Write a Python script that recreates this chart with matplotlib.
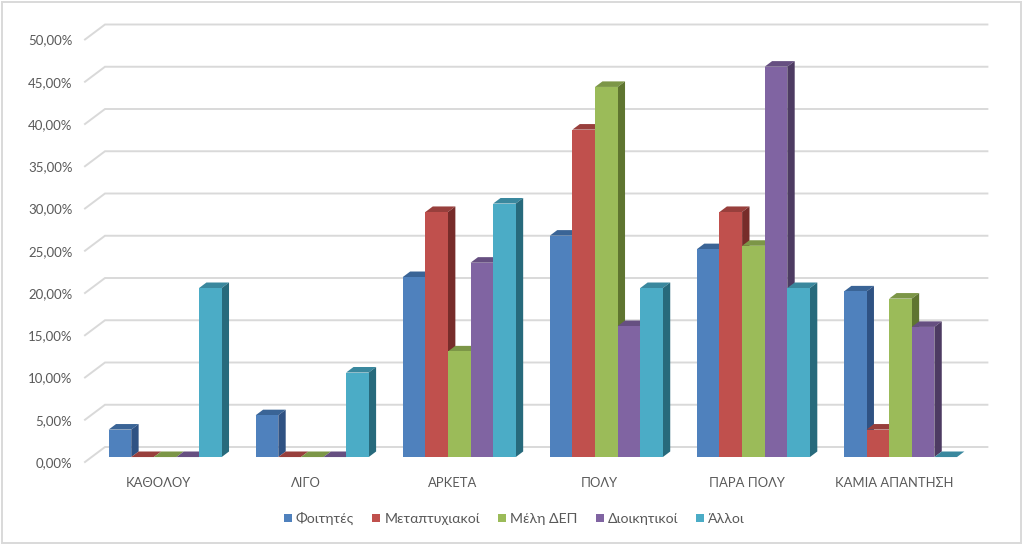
import numpy as np
import matplotlib
matplotlib.use('Agg')
import matplotlib.pyplot as plt
from matplotlib.patches import Rectangle, Patch

categories = ['ΚΑΘΟΛΟΥ', 'ΛΙΓΟ', 'ΑΡΚΕΤΑ', 'ΠΟΛΥ', 'ΠΑΡΑ ΠΟΛΥ', 'ΚΑΜΙΑ ΑΠΑΝΤΗΣΗ']
series_names = ['Φοιτητές', 'Μεταπτυχιακοί', 'Μέλη ΔΕΠ', 'Διοικητικοί', 'Άλλοι']

foitites = [3.25, 4.95, 21.3, 26.2, 24.6, 19.6]
metaptyxiakoi = [0, 0, 29.0, 38.75, 29.0, 3.25]
meli_dep = [0, 0, 12.5, 43.8, 25.0, 18.75]
dioikitikoi = [0, 0, 23.0, 15.5, 46.2, 15.4]
alloi = [20.0, 10.0, 30.0, 20.0, 20.0, 0]
values = [foitites, metaptyxiakoi, meli_dep, dioikitikoi, alloi]

yticks = np.arange(0, 51, 5)
ytick_labels = ['{:.2f}%'.format(t).replace('.', ',') for t in yticks]

front_cols = ['#4F81BD', '#C0504D', '#9BBB59', '#8064A2', '#4BACC6']
top_cols = ['#3A6496', '#983F3C', '#7C9647', '#664F81', '#3A889E']
side_cols = ['#2F5283', '#772C2A', '#5F7530', '#4D3B62', '#276A7C']
grid_col = '#D9D9D9'
text_col = '#595959'

plt.rcParams['font.family'] = ['Lato', 'Noto Sans', 'DejaVu Sans']

W, H = 1023, 545
fig = plt.figure(figsize=(W / 100, H / 100), dpi=100, facecolor='white')
fig.add_artist(Rectangle((1.5 / W, 2.5 / H), (W - 3.5) / W, (H - 4) / H, transform=fig.transFigure,
                         fill=False, ec='#D9D9D9', lw=1.4))

# front floor corner is at pixel (85, 462), 50% is at y=39.5, groups are 147 px wide
ax = fig.add_axes([85 / W, (H - 462) / H, 882.4 / W, 422.5 / H])
ax.set_xlim(0, 6)
ax.set_ylim(0, 50)
ax.patch.set_alpha(0)
for s in ax.spines.values():
    s.set_visible(False)

# oblique projection of the depth axis, in data units
px_x = 6 / 882.4
px_y = 50 / 422.5
wall_dx = 20 * px_x
wall_dy = 15 * px_y


def project(x, v, d):
    return x + d * wall_dx, v + d * wall_dy


for t in yticks:
    x0, y0 = project(0, t, 0)
    x1, y1 = project(0, t, 1)
    x2, y2 = project(6, t, 1)
    ax.plot([x0, x1, x2], [y0, y1, y2], color=grid_col, lw=1.4, clip_on=False, zorder=1,
            solid_joinstyle='miter')

bar_w = 22.6 * px_x
d_front = 0.33
d_back = 0.70

for i in range(len(categories)):
    x_start = i + 0.5 - 2.5 * bar_w
    for k in range(len(series_names)):
        v = values[k][i]
        x = x_start + k * bar_w
        z = 3 + k * 0.1 + i
        xf, yf = project(x, v, d_front)
        xb, yb = project(x, v, d_back)
        xr = xf + bar_w
        xbr = xb + bar_w
        _, base_f = project(x, 0, d_front)
        _, base_b = project(x, 0, d_back)
        ax.fill([xf, xr, xbr, xb], [yf, yf, yb, yb], color=top_cols[k], lw=0, zorder=z, clip_on=False)
        if v > 0:
            ax.fill([xr, xbr, xbr, xr], [base_f, base_b, yb, yf], color=side_cols[k], lw=0, zorder=z,
                    clip_on=False)
            ax.bar(xf, v, bar_w, bottom=base_f, align='edge', color=front_cols[k], lw=0, zorder=z + 0.01)

ax.set_xticks(np.arange(6) + 0.5)
ax.set_xticklabels(categories, fontsize=9.4, color=text_col)
ax.set_yticks(yticks)
ax.set_yticklabels(ytick_labels, fontsize=9.5, color=text_col)
ax.tick_params(axis='x', length=0, pad=11)
ax.tick_params(axis='y', length=0, pad=9)

handles = [Patch(facecolor=c, label=n) for c, n in zip(front_cols, series_names)]
fig.legend(handles=handles, loc='center', bbox_to_anchor=(514.5 / W, (H - 518.5) / H), ncol=5, frameon=False,
           fontsize=10.2, labelcolor=text_col, handlelength=0.56, handleheight=0.56, handletextpad=0.3,
           columnspacing=1.27)

fig.savefig('out.png', dpi=100)
